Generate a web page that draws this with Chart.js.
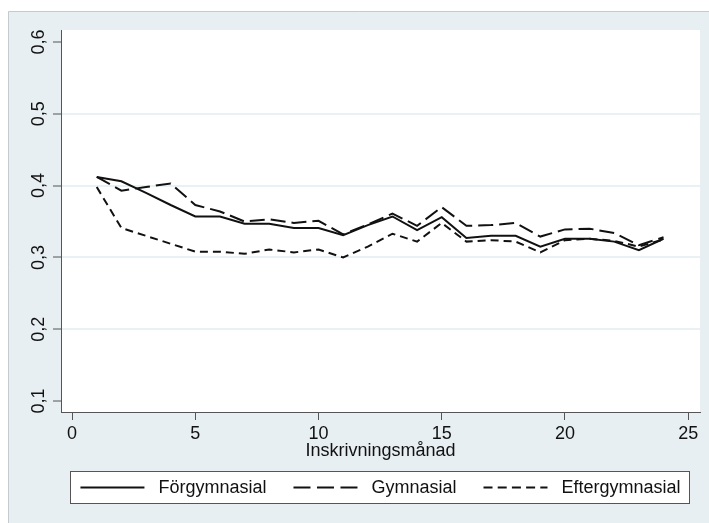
<!DOCTYPE html>
<html>
<head>
<meta charset="utf-8">
<script src="https://cdn.jsdelivr.net/npm/chart.js@4.4.1/dist/chart.umd.min.js"></script>
<style>
html, body { margin: 0; padding: 0; background: #fff; }
canvas { display: block; }
</style>
</head>
<body>
<canvas id="chart1" width="709" height="523"></canvas>
<script>
var months = [1, 2, 3, 4, 5, 6, 7, 8, 9, 10, 11, 12, 13, 14, 15, 16, 17, 18, 19, 20, 21, 22, 23, 24];
var forgymnasial = [0.412, 0.406, 0.390, 0.373, 0.357, 0.357, 0.347, 0.347, 0.341, 0.341, 0.331, 0.345,
                    0.357, 0.338, 0.356, 0.327, 0.330, 0.330, 0.315, 0.326, 0.326, 0.322, 0.310, 0.326];
var gymnasial = [0.412, 0.393, 0.398, 0.403, 0.373, 0.364, 0.350, 0.353, 0.348, 0.351, 0.332, 0.346,
                 0.361, 0.344, 0.370, 0.344, 0.345, 0.348, 0.329, 0.339, 0.340, 0.334, 0.317, 0.328];
var eftergymnasial = [0.398, 0.341, 0.330, 0.319, 0.308, 0.308, 0.305, 0.311, 0.307, 0.311, 0.300, 0.315,
                      0.333, 0.322, 0.348, 0.322, 0.324, 0.322, 0.307, 0.324, 0.326, 0.323, 0.315, 0.325];
var seriesNames = ['Förgymnasial', 'Gymnasial', 'Eftergymnasial'];
var xTicks = [0, 5, 10, 15, 20, 25];
var yTicks = [0.1, 0.2, 0.3, 0.4, 0.5, 0.6];
var xTitle = 'Inskrivningsmånad';

var font = "'Liberation Sans', Arial, sans-serif";
var ink = '#111';

function points(vals) {
    return vals.map(function (v, i) { return { x: months[i], y: v }; });
}

// stata style background: light grey-blue graph region, white plot region
var bgPlugin = {
    id: 'bg',
    beforeDraw: function (chart) {
        var c = chart.ctx, a = chart.chartArea;
        c.save();
        c.fillStyle = '#fff';
        c.fillRect(0, 0, chart.width, chart.height);
        c.fillStyle = '#e8eff2';
        c.fillRect(8, 11, chart.width - 8, chart.height - 11);
        c.strokeStyle = '#c4cacd';
        c.lineWidth = 1;
        c.beginPath();
        c.moveTo(8.5, chart.height);
        c.lineTo(8.5, 11.5);
        c.lineTo(chart.width, 11.5);
        c.stroke();
        c.fillStyle = '#fff';
        c.fillRect(a.left, a.top, a.right - a.left, a.bottom - a.top);
        c.restore();
    }
};

// boxed legend below the axis title
var legendPlugin = {
    id: 'boxLegend',
    afterDraw: function (chart) {
        var c = chart.ctx, a = chart.chartArea, xs = chart.scales.x;
        var top = xs.bottom + 9, h = 33;
        var left = a.left + 9, right = a.right - 10;
        c.save();
        c.fillStyle = '#fff';
        c.fillRect(left, top, right - left, h);
        c.strokeStyle = '#555';
        c.lineWidth = 1;
        c.strokeRect(left + 0.5, top + 0.5, right - left - 1, h - 1);
        c.font = '18px ' + font;
        var sample = 64, gap = 14, itemGap = 27;
        var ds = chart.data.datasets;
        var widths = ds.map(function (d) { return c.measureText(d.label).width; });
        var total = itemGap * (ds.length - 1);
        widths.forEach(function (w) { total += sample + gap + w; });
        var x = (a.left + a.right) / 2 - total / 2;
        var cy = top + h / 2;
        ds.forEach(function (d, i) {
            c.setLineDash(d.legendDash || []);
            c.lineWidth = 2;
            c.strokeStyle = d.borderColor;
            c.beginPath();
            c.moveTo(x, cy);
            c.lineTo(x + sample, cy);
            c.stroke();
            c.setLineDash([]);
            c.fillStyle = ink;
            c.textBaseline = 'middle';
            c.textAlign = 'left';
            c.fillText(d.label, x + sample + gap, cy + 1);
            x += sample + gap + widths[i] + itemGap;
        });
        c.restore();
    }
};

var myChart = document.getElementById('chart1').getContext('2d');
var massPopChart = new Chart(myChart, {
    type: 'line',
    data: {
        datasets: [{
            label: seriesNames[0],
            data: points(forgymnasial),
            borderColor: ink,
            borderWidth: 2,
            borderDash: [],
            legendDash: []
        }, {
            label: seriesNames[1],
            data: points(gymnasial),
            borderColor: ink,
            borderWidth: 2,
            borderDash: [15, 6],
            legendDash: [17, 6.5]
        }, {
            label: seriesNames[2],
            data: points(eftergymnasial),
            borderColor: ink,
            borderWidth: 2,
            borderDash: [8, 5],
            legendDash: [9, 5.2]
        }]
    },
    options: {
        responsive: false,
        animation: false,
        elements: { point: { radius: 0 }, line: { tension: 0 } },
        layout: { padding: { left: 0, top: 30, right: 9, bottom: 61 } },
        plugins: { legend: { display: false }, tooltip: { enabled: false } },
        scales: {
            x: {
                type: 'linear',
                min: -0.45,
                max: 25.48,
                afterBuildTicks: function (s) { s.ticks = xTicks.map(function (v) { return { value: v }; }); },
                afterFit: function (s) { s.height = 50; },
                ticks: { font: { size: 18, family: font }, color: ink, padding: 3, autoSkip: false, maxRotation: 0 },
                grid: { drawOnChartArea: false, tickLength: 8, tickColor: '#555', tickWidth: 1 },
                border: { color: '#555', width: 1 },
                title: {
                    display: true,
                    text: xTitle,
                    font: { size: 18, family: font },
                    color: ink,
                    padding: { top: 0, bottom: 0 }
                }
            },
            y: {
                type: 'linear',
                min: 0.0847,
                max: 0.6167,
                afterBuildTicks: function (s) { s.ticks = yTicks.map(function (v) { return { value: v }; }); },
                afterFit: function (s) { s.width = 61; },
                ticks: {
                    font: { size: 18, family: font },
                    color: ink,
                    minRotation: 90,
                    maxRotation: 90,
                    crossAlign: 'center',
                    padding: 1,
                    callback: function (v) { return v.toFixed(1).replace('.', ','); }
                },
                grid: {
                    color: function (ctx) {
                        var v = ctx.tick ? ctx.tick.value : 0;
                        return (v > 0.15 && v < 0.55) ? '#e9f1f4' : 'rgba(0,0,0,0)';
                    },
                    lineWidth: 2,
                    tickLength: 8,
                    tickColor: '#555',
                    tickWidth: 1
                },
                border: { color: '#555', width: 1 }
            }
        }
    },
    plugins: [bgPlugin, legendPlugin]
});
</script>
</body>
</html>
